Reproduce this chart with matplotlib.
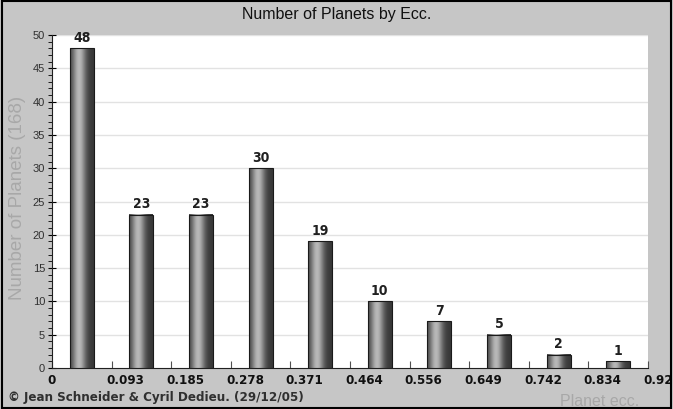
import numpy as np
import matplotlib
matplotlib.use('Agg')
import matplotlib.pyplot as plt
from matplotlib.colors import LinearSegmentedColormap
from matplotlib.patches import Rectangle

plt.rcParams['font.family'] = ['Liberation Sans', 'DejaVu Sans']
narrow = dict(family=['DejaVu Sans'], stretch='condensed', fontweight='bold')

# data
bin_width = 0.0927
counts = [48, 23, 23, 30, 19, 10, 7, 5, 2, 1]
tick_labels = ['0', '0.093', '0.185', '0.278', '0.371', '0.464', '0.556', '0.649', '0.742', '0.834', '0.92']
title = 'Number of Planets by Ecc.'
ylabel = 'Number of Planets (168)'
xlabel = 'Planet ecc.'
credit = '\u00a9 Jean Schneider & Cyril Dedieu. (29/12/05)'

edges = np.arange(len(counts) + 1) * bin_width
centers = edges[:-1] + bin_width / 2
xmax = edges[-1]

fig = plt.figure(figsize=(6.73, 4.09), dpi=100)
fig.patch.set_facecolor('#c6c6c6')
ax = fig.add_axes([52/673, 1-368/409, 596/673, 333/409])
ax.set_facecolor('white')

# cylinder shading
g = np.linspace(0, 1, 64)
shade = 0.15 + 0.65 * np.exp(-((g - 0.38) / 0.28) ** 2)
cmap = LinearSegmentedColormap.from_list('cyl', ['#1a1a1a', '#e0e0e0'])
bw = bin_width * 0.4
for c, h in zip(centers, counts):
    ax.imshow(shade[np.newaxis, :], cmap=cmap, vmin=0, vmax=1, aspect='auto',
              extent=[c - bw/2, c + bw/2, 0, h], zorder=3, interpolation='bilinear')
    ax.add_patch(Rectangle((c - bw/2, 0), bw, h, fill=False, edgecolor='#1a1a1a', lw=0.8, zorder=4))
    ax.text(c, h + 0.5, str(h), ha='center', va='bottom', fontsize=10,
            color='#202020', **narrow)

ax.set_xlim(0, xmax)
ax.set_ylim(0, 50)

# grid
for yv in range(5, 51, 5):
    ax.axhline(yv, color='#e2e2e2', lw=1, zorder=1)

for s in ['top', 'right']:
    ax.spines[s].set_visible(False)
ax.spines['left'].set_color('#202020')
ax.spines['bottom'].set_color('#202020')

ax.set_yticks(range(0, 51, 5))
ax.set_yticks(range(0, 51, 1), minor=True)
ax.tick_params(axis='y', which='major', direction='inout', length=6, labelsize=8, labelcolor='#303030', pad=2)
ax.tick_params(axis='y', which='minor', direction='out', length=3)
ax.set_xticks(edges)
ax.set_xticklabels([])
ax.tick_params(axis='x', which='major', direction='in', length=5, color='#505050')

# x tick labels, left aligned at ticks
for e, lab in zip(edges, tick_labels):
    ax.annotate(lab, xy=(e, 0), xycoords='data', xytext=(-3.5, -4), textcoords='offset points',
                ha='left', va='top', fontsize=9.5, color='#101010',
                annotation_clip=False, **narrow)

fig.text(0.5, 1 - 15/409, title, ha='center', va='center', fontsize=11.5, color='#101010')
fig.text(18/673, 1 - 198/409, ylabel, ha='center', va='center', rotation=90,
         fontsize=13.5, color='#a8a8a8')
fig.text(8/673, 1 - 398/409, credit, ha='left', va='center', fontsize=9.5,
         color='#303030', **narrow)
fig.text(600/673, 1 - 401/409, xlabel, ha='center', va='center', fontsize=11.5, color='#a8a8a8')

# frame around figure
fig.add_artist(Rectangle((0.003, 0.003), 0.994, 0.994, transform=fig.transFigure,
                         fill=False, edgecolor='black', lw=1.5))

fig.savefig('out.png', dpi=100, facecolor=fig.get_facecolor())
